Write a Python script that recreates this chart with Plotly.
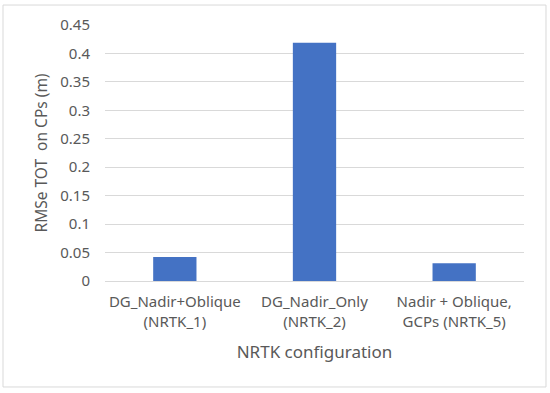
import plotly.graph_objects as go

categories = ["DG_Nadir+Oblique<br>(NRTK_1)", "DG_Nadir_Only<br>(NRTK_2)", "Nadir + Oblique,<br>GCPs (NRTK_5)"]
rmse_tot = [0.042, 0.419, 0.031]
y_ticks = [0, 0.05, 0.1, 0.15, 0.2, 0.25, 0.3, 0.35, 0.4, 0.45]
y_tick_labels = ["0", "0.05", "0.1", "0.15", "0.2", "0.25", "0.3", "0.35", "0.4", "0.45"]

font_family = "Noto Sans"
gray = "#595959"

fig = go.Figure(go.Bar(x=categories, y=rmse_tot, marker=dict(color="#4472C4", line=dict(width=0))))

fig.update_layout(
    width=550, height=393,
    margin=dict(l=105, r=26, t=25, b=112, autoexpand=False),
    paper_bgcolor="white", plot_bgcolor="white",
    bargap=0.69,
    showlegend=False,
    font=dict(family=font_family, color=gray, size=15),
)
fig.update_xaxes(
    automargin=False,
    showgrid=False, showline=True, linecolor="#d9d9d9", linewidth=1,
    tickfont=dict(size=15, color=gray), ticks="", ticklabelstandoff=7,
    title=dict(text="NRTK configuration", font=dict(size=17, color=gray), standoff=16),
)
fig.update_yaxes(
    automargin=False,
    range=[0, 0.45], tickvals=y_ticks, ticktext=y_tick_labels,
    showgrid=True, gridcolor="#d9d9d9", gridwidth=1, zeroline=False,
    tickfont=dict(size=15, color=gray), ticks="", ticklabelstandoff=14,
    title=dict(text="RMSe TOT  on CPs (m)", font=dict(size=15.5, color=gray), standoff=8),
)
fig.add_shape(type="rect", xref="paper", yref="paper",
              x0=-0.2434, x1=1.0525, y0=-0.414, y1=1.078,
              line=dict(color="#d9d9d9", width=1), fillcolor="rgba(0,0,0,0)", layer="below")

fig.write_html("out.html", config={"displayModeBar": False},
               post_script="document.body.style.margin='0';document.body.style.overflow='hidden';")
